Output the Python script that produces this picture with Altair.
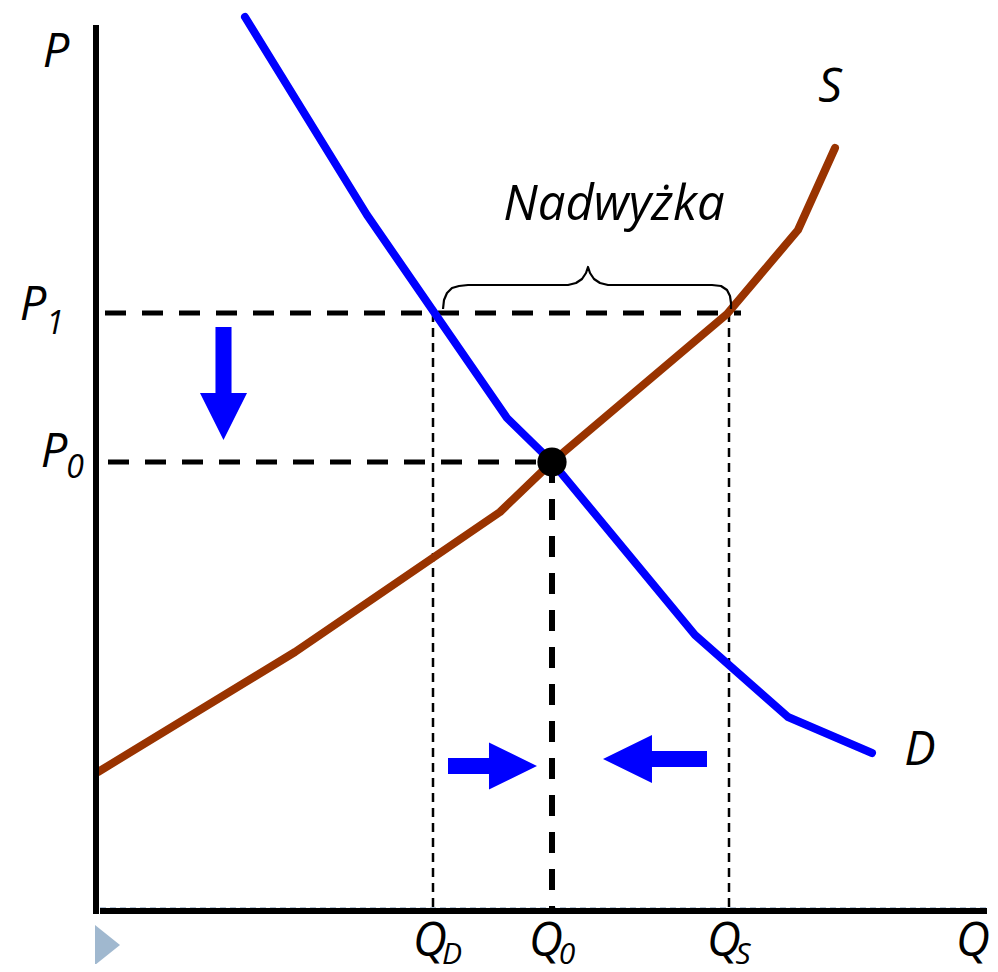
import altair as alt
import pandas as pd

# ---- data (quantity Q, price P in chart units) ----
demand_q = [14.9, 27.1, 41.1, 45.6, 59.9, 69.2, 77.6]
demand_p = [89.4, 69.6, 49.3, 44.9, 27.6, 19.4, 15.8]
supply_q = [0.2, 19.9, 40.4, 45.6, 63.1, 70.2, 73.9]
supply_p = [13.9, 25.9, 39.9, 44.9, 59.7, 68.1, 76.3]

P1, P0 = 59.8, 44.9
QD, Q0, QS = 33.7, 45.6, 63.3

brace_q = [34.7, 34.8, 35.1, 35.6, 36.3, 37.2, 47.2, 48.0, 48.6, 49.0, 49.2,
           49.4, 49.8, 50.4, 51.2, 61.6, 62.5, 63.1, 63.4, 63.5, 63.5]
brace_p = [60.2, 61.1, 61.8, 62.3, 62.5, 62.6, 62.6, 62.8, 63.2, 63.8, 64.4,
           63.8, 63.2, 62.8, 62.6, 62.6, 62.5, 62.1, 61.5, 60.8, 60.2]

label_text = ["P", "P", "1", "P", "0", "Q", "D", "Q", "0", "Q", "S", "Q",
              "S", "D", "Nadwyżka"]
label_x = [-4.0, -6.3, -4.1, -4.2, -2.1, 33.4, 35.6, 45.0, 47.1, 62.8, 64.7, 87.7,
           73.4, 82.4, 51.8]
label_y = [84.4, 59.1, 57.7, 44.4, 43.3, -4.5, -5.25, -4.5, -5.25, -4.5, -5.25, -4.5,
           80.9, 14.6, 69.1]
label_size = [47, 47, 32, 47, 32, 47, 30, 47, 30, 47, 30, 47, 47, 47, 49]

# arrows: anchor and custom shape
arrow_x = [12.75, 39.65, 55.9]
arrow_y = [52.75, 14.5, 15.2]
arrow_size = [12769, 7921, 10816]
arrow_shape = [
    "M-0.142,-1L0.142,-1L0.142,0.168L0.416,0.168L0,1L-0.416,0.168L-0.142,0.168Z",
    "M-1,-0.18L-0.079,-0.18L-0.079,-0.528L1,0L-0.079,0.528L-0.079,0.18L-1,0.18Z",
    "M1,-0.154L-0.058,-0.154L-0.058,-0.46L-1,0L-0.058,0.46L-0.058,0.154L1,0.154Z",
]

XS = alt.Scale(domain=[-8.8, 89.4], nice=False, zero=False)
YS = alt.Scale(domain=[-5.3, 90.3], nice=False, zero=False)

def X(f="x"):
    return alt.X(f"{f}:Q", scale=XS, axis=None)

def Y(f="y"):
    return alt.Y(f"{f}:Q", scale=YS, axis=None)

BLUE = "#0000ff"
BROWN = "#993300"

# decorative light dashed line under the x axis
deco = alt.Chart(pd.DataFrame({"x": [0.4], "x2": [89.4], "y": [0.3]})).mark_rule(
    color="#9db3cb", strokeWidth=1.5, strokeDash=[6, 4]
).encode(x=X(), x2="x2:Q", y=Y())

tri = alt.Chart(pd.DataFrame({"x": [1.15], "y": [-3.4]})).mark_point(
    shape="M-0.625,-1L0.625,0L-0.625,1Z", size=1600, filled=True, opacity=1,
    color="#a0b8cf", strokeWidth=0
).encode(x=X(), y=Y())

axes_v = alt.Chart(pd.DataFrame({"x": [0.0], "y": [-0.3], "y2": [88.6]})).mark_rule(
    color="black", strokeWidth=6
).encode(x=X(), y=Y(), y2="y2:Q")
axes_h = alt.Chart(pd.DataFrame({"x": [0.4], "x2": [89.1], "y": [0.0]})).mark_rule(
    color="black", strokeWidth=6
).encode(x=X(), x2="x2:Q", y=Y())

h_guides = alt.Chart(pd.DataFrame({"x": [0.9, 1.2], "x2": [64.5, Q0], "y": [P1, P0]})).mark_rule(
    color="black", strokeWidth=5, strokeDash=[21, 16]
).encode(x=X(), x2="x2:Q", y=Y())

v_thick = alt.Chart(pd.DataFrame({"x": [Q0], "y": [P0], "y2": [0.0]})).mark_rule(
    color="black", strokeWidth=6, strokeDash=[21, 16]
).encode(x=X(), y=Y(), y2="y2:Q")

v_thin = alt.Chart(pd.DataFrame({"x": [QD, QS], "y": [P1, P1], "y2": [0.0, 0.0]})).mark_rule(
    color="black", strokeWidth=2.5, strokeDash=[9, 6]
).encode(x=X(), y=Y(), y2="y2:Q")

demand = alt.Chart(pd.DataFrame({"x": demand_q, "y": demand_p})).mark_line(
    color=BLUE, strokeWidth=8, strokeCap="round", strokeJoin="round"
).encode(x=X(), y=Y())

supply = alt.Chart(pd.DataFrame({"x": supply_q, "y": supply_p})).mark_line(
    color=BROWN, strokeWidth=8, strokeCap="round", strokeJoin="round"
).encode(x=X(), y=Y())

brace = alt.Chart(pd.DataFrame({"x": brace_q, "y": brace_p, "o": list(range(len(brace_q)))})).mark_line(
    color="black", strokeWidth=2.2, strokeJoin="round"
).encode(x=X(), y=Y(), order="o:Q")

dot = alt.Chart(pd.DataFrame({"x": [Q0], "y": [P0]})).mark_point(
    shape="circle", size=855, filled=True, color="black", opacity=1
).encode(x=X(), y=Y())

arrows = alt.Chart(pd.DataFrame({"x": arrow_x, "y": arrow_y, "s": arrow_shape, "z": arrow_size})).mark_point(
    filled=True, color=BLUE, opacity=1
).encode(x=X(), y=Y(), shape=alt.Shape("s:N", scale=None, legend=None),
         size=alt.Size("z:Q", scale=None, legend=None))

labels = alt.Chart(pd.DataFrame({"t": label_text, "x": label_x, "y": label_y, "fs": label_size})).mark_text(
    font="Open Sans", fontStyle="italic", align="center", baseline="alphabetic", color="black"
).encode(x=X(), y=Y(), text="t:N", size=alt.Size("fs:Q", scale=None, legend=None))

chart = alt.layer(
    deco, tri, h_guides, v_thin, v_thick, supply, demand, brace, dot, arrows, axes_v, axes_h, labels
).properties(
    width=982, height=956, padding=0, autosize=alt.AutoSizeParams(type="none")
).configure_view(stroke=None)

chart.save("out.html", embed_options={"renderer": "svg", "actions": False})
